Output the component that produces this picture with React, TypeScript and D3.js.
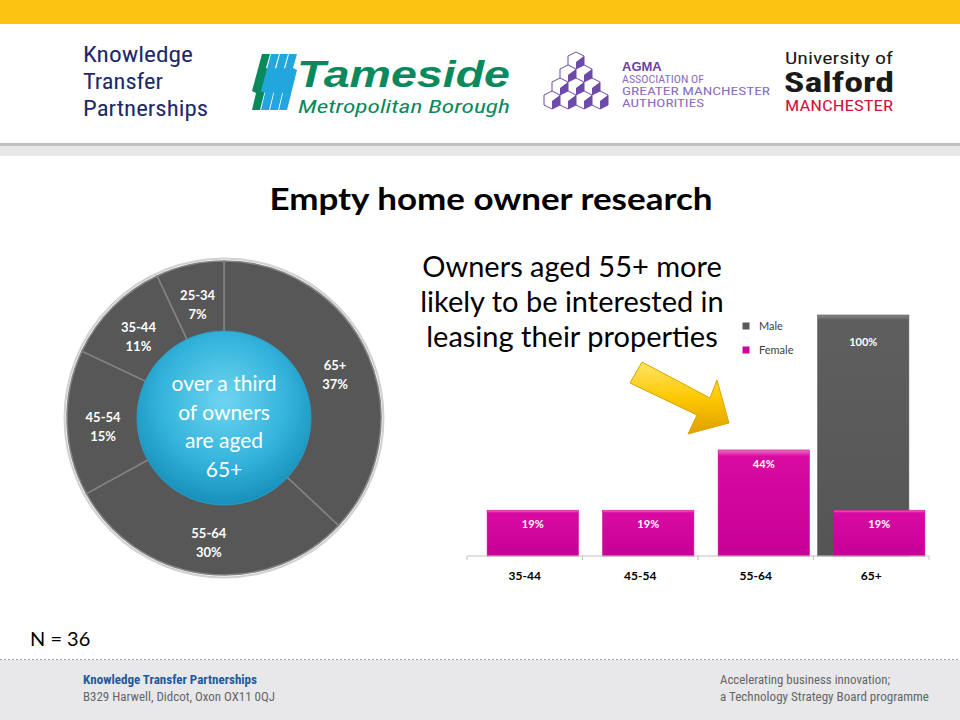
import * as d3 from "d3";

// donut: share of empty home owners by age
const ageBands = ["65+", "55-64", "45-54", "35-44", "25-34"];
const ageShares = [37, 30, 15, 11, 7];

// bars: interested in leasing, by age and gender
const barCategories = ["35-44", "45-54", "55-64", "65+"];
const seriesNames = ["Male", "Female"];
const maleValues = [0, 0, 0, 100];
const femaleValues = [19, 19, 44, 19];

const centreText = ["over a third", "of owners", "are aged", "65+"];
const calloutText = ["Owners aged 55+ more", "likely to be interested in", "leasing their properties"];

const W = 960;
const H = 720;
const font = "Lato, 'Open Sans', sans-serif";
const narrow = "'Liberation Sans Narrow', 'Roboto Condensed', Roboto, sans-serif";

const MAGENTA = "#d0049c";
const GREY = "#595959";

const Header = () => {
  const cubes: { x: number; y: number }[] = [];
  for (let r = 0; r < 4; r++) {
    for (let c = 0; c <= r; c++) {
      cubes.push({ x: 576 - r * 8 + c * 16, y: 60 + r * 13 });
    }
  }
  return (
    <g>
      <rect x={0} y={0} width={W} height={24} fill="#fdc312" />
      <rect x={0} y={24} width={W} height={120} fill="#fff" />
      <rect x={0} y={143} width={W} height={3} fill="#bfbfbf" />
      <rect x={0} y={146} width={W} height={10} fill="#e7e7e7" />

      {/* KTP */}
      <g fontFamily={narrow} fontSize={22} fill="#1d2a6b">
        <text x={83} y={62} textLength={110} lengthAdjust="spacingAndGlyphs">Knowledge</text>
        <text x={83} y={89} textLength={80} lengthAdjust="spacingAndGlyphs">Transfer</text>
        <text x={83} y={116} textLength={125} lengthAdjust="spacingAndGlyphs">Partnerships</text>
      </g>

      {/* Tameside */}
      <g>
        {[0, 1, 2, 3].map(i => (
          <path
            key={i}
            d={`M${262 + i * 9},54 l8,0 l-4,14 l4,2 l-10,40 l-8,0 l4,-17 l-4,-2 z`}
            fill={i === 0 ? "#0a8a5c" : "#22a6de"}
          />
        ))}
        <text x={297} y={87} fontFamily="'Liberation Sans', Arial, sans-serif" fontWeight="bold"
          fontStyle="italic" fontSize={37} fill="#0a8a5c" textLength={213} lengthAdjust="spacingAndGlyphs">Tameside</text>
        <text x={298} y={113} fontFamily={narrow} fontStyle="italic" fontSize={19} fill="#0a8a5c"
          textLength={212} lengthAdjust="spacingAndGlyphs">Metropolitan Borough</text>
      </g>

      {/* AGMA */}
      <g>
        {cubes.map((c, i) => (
          <g key={i} transform={`translate(${c.x},${c.y})`}>
            <path d="M0,-8 L8,-4 L8,6 L0,10 L-8,6 L-8,-4 Z" fill="#fff" stroke="#6d4aa8" strokeWidth={1} />
            <path d="M0,2 L8,-4 L8,6 L0,10 Z" fill="#6d4aa8" />
          </g>
        ))}
        <text x={622} y={71} fontFamily="'Liberation Sans', Arial, sans-serif" fontWeight="bold" fontSize={13} fill="#6d3fa6">AGMA</text>
        <g fontFamily={narrow} fontSize={11} fill="#8b6cc0">
          <text x={622} y={83} textLength={82} lengthAdjust="spacingAndGlyphs">ASSOCIATION OF</text>
          <text x={622} y={95} textLength={148} lengthAdjust="spacingAndGlyphs">GREATER MANCHESTER</text>
          <text x={622} y={107} textLength={82} lengthAdjust="spacingAndGlyphs">AUTHORITIES</text>
        </g>
      </g>

      {/* Salford */}
      <g fontFamily={narrow} textAnchor="start">
        <text x={785} y={64} fontSize={17} fill="#1a1a1a" textLength={108} lengthAdjust="spacingAndGlyphs">University of</text>
        <text x={784} y={92} fontSize={27} fontWeight="bold" fill="#1a1a1a" textLength={110} lengthAdjust="spacingAndGlyphs">Salford</text>
        <text x={785} y={111} fontSize={14} fill="#d3123d" textLength={108} lengthAdjust="spacingAndGlyphs">MANCHESTER</text>
      </g>
    </g>
  );
};

const Donut = () => {
  const cx = 224;
  const cy = 418;
  const rOuter = 157;
  const rInner = 86;
  const pieGen = d3.pie<number>().sort(null).value(d => d);
  const arcs = pieGen(ageShares);
  const arcGen = d3.arc<d3.PieArcDatum<number>>().innerRadius(rInner).outerRadius(rOuter);
  const labelArc = d3.arc<d3.PieArcDatum<number>>().innerRadius(121).outerRadius(121);

  return (
    <g transform={`translate(${cx},${cy})`}>
      <defs>
        <radialGradient id="hubGrad" cx="50%" cy="40%" r="60%">
          <stop offset="0%" stopColor="#6fd4f0" />
          <stop offset="60%" stopColor="#34b4dc" />
          <stop offset="100%" stopColor="#1790ba" />
        </radialGradient>
      </defs>
      <circle r={rOuter + 2.5} fill="none" stroke="#d0d0d0" strokeWidth={2} />
      {arcs.map((a, i) => (
        <path key={i} d={arcGen(a) as string} fill="#575757" stroke="#828282" strokeWidth={1.6} />
      ))}
      {arcs.map((a, i) => {
        const [lx, ly] = labelArc.centroid(a);
        return (
          <text key={i} x={lx} y={ly} textAnchor="middle" fill="#fff" fontFamily={font}
            fontWeight="bold" fontSize={13}>
            <tspan x={lx} dy={0}>{ageBands[i]}</tspan>
            <tspan x={lx} dy={19}>{ageShares[i]}%</tspan>
          </text>
        );
      })}
      <circle r={rInner + 1} fill="url(#hubGrad)" stroke="#2a9cc4" strokeWidth={1} />
      <text textAnchor="middle" fill="#fff" fontFamily={font} fontSize={21}>
        {centreText.map((t, i) => (
          <tspan key={i} x={0} y={-27 + i * 28.5}>{t}</tspan>
        ))}
      </text>
    </g>
  );
};

const Bars = () => {
  const x = d3.scaleBand().domain(barCategories).range([467, 929]).padding(0);
  const y = d3.scaleLinear().domain([0, 100]).range([556, 315]);
  const bw = x.bandwidth() * 0.79;
  const shift = 8;
  const series = [
    { name: seriesNames[0], values: maleValues, color: GREY, grad: "gradM", offset: -shift, labelDy: 31 },
    { name: seriesNames[1], values: femaleValues, color: MAGENTA, grad: "gradF", offset: shift, labelDy: 18 },
  ];

  return (
    <g>
      <defs>
        <linearGradient id="gradM" x1="0" x2="0" y1="0" y2="1">
          <stop offset="0" stopColor="#8a8a8a" />
          <stop offset="0.02" stopColor="#5f5f5f" />
          <stop offset="1" stopColor="#555" />
        </linearGradient>
        <linearGradient id="gradF" x1="0" x2="0" y1="0" y2="1">
          <stop offset="0" stopColor="#f070c8" />
          <stop offset="0.06" stopColor="#d80aa2" />
          <stop offset="1" stopColor="#c80096" />
        </linearGradient>
      </defs>
      {series.map(s =>
        s.values.map((v, i) => {
          if (!v) return null;
          const cxm = (x(barCategories[i]) as number) + x.bandwidth() / 2 + s.offset;
          return (
            <g key={s.name + i}>
              <rect x={cxm - bw / 2} y={y(v)} width={bw} height={y(0) - y(v)} fill={`url(#${s.grad})`}
                stroke={s.color} strokeWidth={0.6} />
              <text x={cxm} y={y(v) + s.labelDy} textAnchor="middle" fill="#fff" fontFamily={font}
                fontWeight="bold" fontSize={11}>{v}%</text>
            </g>
          );
        })
      )}
      <line x1={467} x2={929} y1={y(0)} y2={y(0)} stroke="#bfbfbf" strokeWidth={1.2} />
      {[...barCategories.map(c => x(c) as number), 929].map((t, i) => (
        <line key={i} x1={t} x2={t} y1={y(0)} y2={y(0) + 4} stroke="#bfbfbf" />
      ))}
      {barCategories.map(c => (
        <text key={c} x={(x(c) as number) + x.bandwidth() / 2} y={580} textAnchor="middle" fontFamily={font}
          fontWeight="bold" fontSize={12} fill="#000">{c}</text>
      ))}
      {/* legend */}
      {series.map((s, i) => (
        <g key={s.name} transform={`translate(746,${326 + i * 24})`}>
          <rect x={-3.5} y={-3.5} width={7} height={7} fill={s.color} />
          <text x={13} y={4} fontFamily={font} fontSize={11} fill="#404040">{s.name}</text>
        </g>
      ))}
    </g>
  );
};

const Arrow = () => (
  <g>
    <defs>
      <linearGradient id="arrowGrad" x1="0" y1="0" x2="0" y2="1">
        <stop offset="0" stopColor="#ffe566" />
        <stop offset="0.5" stopColor="#fcc800" />
        <stop offset="1" stopColor="#e0a000" />
      </linearGradient>
    </defs>
    <path d="M642,362 L710,398 L717,380 L729,423 L688,434 L697,415 L630,383 Z"
      fill="url(#arrowGrad)" stroke="#d9a400" strokeWidth={1} strokeLinejoin="round" />
  </g>
);

const Footer = () => (
  <g>
    <rect x={0} y={660} width={W} height={60} fill="#e8e8ea" />
    <line x1={0} x2={W} y1={659.5} y2={659.5} stroke="#9a9a9a" strokeDasharray="2,2" />
    <g fontFamily={narrow} fontSize={13}>
      <text x={83} y={684} fontWeight="bold" fill="#1e5b9a" textLength={174} lengthAdjust="spacingAndGlyphs">Knowledge Transfer Partnerships</text>
      <text x={83} y={701} fill="#666" textLength={192} lengthAdjust="spacingAndGlyphs">B329 Harwell, Didcot, Oxon OX11 0QJ</text>
      <text x={720} y={684} fill="#666" textLength={170} lengthAdjust="spacingAndGlyphs">Accelerating business innovation;</text>
      <text x={720} y={701} fill="#666" textLength={209} lengthAdjust="spacingAndGlyphs">a Technology Strategy Board programme</text>
    </g>
  </g>
);

export default function App() {
  return (
    <svg width={W} height={H} style={{ position: "absolute", left: 0, top: 0, background: "#fff" }}>
      <Header />
      <text x={491} y={210} textAnchor="middle" fontFamily={font} fontWeight="bold" fontSize={31} fill="#000"
        textLength={443} lengthAdjust="spacingAndGlyphs">
        Empty home owner research
      </text>
      <text textAnchor="middle" fontFamily={font} fontSize={29} fill="#000">
        {calloutText.map((t, i) => (
          <tspan key={i} x={572} y={277 + i * 35}>{t}</tspan>
        ))}
      </text>
      <Donut />
      <Bars />
      <Arrow />
      <text x={30} y={646} fontFamily={font} fontSize={20} fill="#000">N = 36</text>
      <Footer />
    </svg>
  );
}
